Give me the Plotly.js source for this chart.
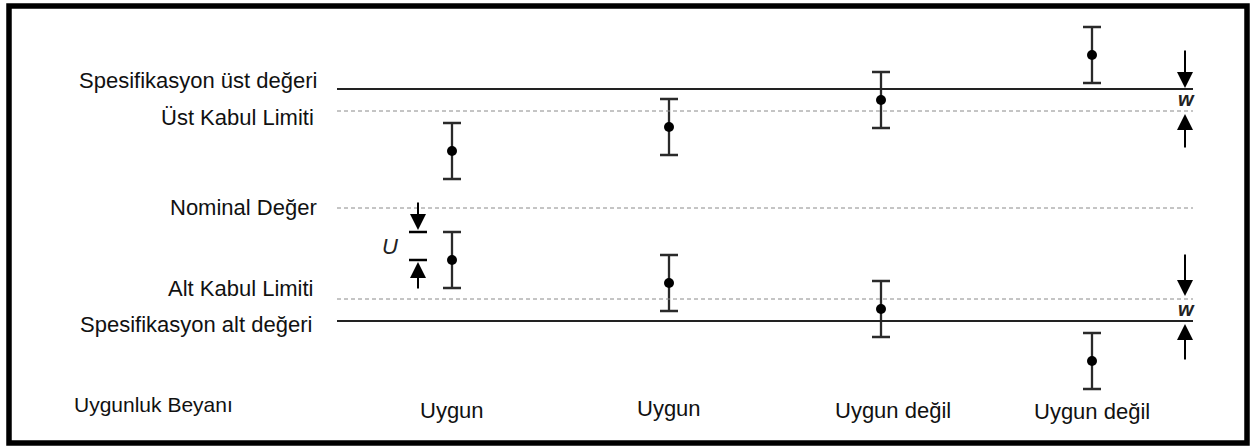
<!DOCTYPE html>
<html>
<head>
<meta charset="utf-8">
<script src="https://cdn.plot.ly/plotly-3.0.1.min.js"></script>
<style>html,body{margin:0;padding:0;background:#fff;}#chart{width:1257px;height:446px;}</style>
</head>
<body>
<div id="chart"></div>
<script>
// ---- data (measurement units, nominal = 0) ----
const positions = [452, 669, 881, 1092];
const verdicts = ["Uygun", "Uygun", "Uygun değil", "Uygun değil"];
const upperResults = [57, 81, 108, 153];
const lowerResults = [-52, -75, -101, -153];
const U = 28;
const limitNames = ["Spesifikasyon üst değeri", "Üst Kabul Limiti", "Nominal Değer", "Alt Kabul Limiti", "Spesifikasyon alt değeri"];
const limitValues = [119, 97, 0, -91, -113];
const limitSolid = [true, false, false, false, true];
const rowTitle = "Uygunluk Beyanı";

// ---- layout helpers ----
const FONT = "Liberation Sans, Arial, sans-serif";
const lineX0 = 337, lineX1 = 1193;
const labelRight = [319, 316, 319, 316, 314];
const labelOffset = [9, -6, 1, 11, -3]; // text centre relative to its line
const verdictY = -202;
const wArrowX = 1185, uArrowX = 418;

const errTrace = (ys) => ({
  type: "scatter", mode: "markers",
  x: positions, y: ys,
  marker: {color: "#000", size: 10},
  error_y: {type: "constant", value: U, color: "#2a2a2a", thickness: 2.3, width: 9},
  hoverinfo: "skip", showlegend: false
});

const shapes = [];
const annotations = [];

// frame
shapes.push({type: "rect", xref: "paper", yref: "paper",
  x0: 9/1257, x1: 1247/1257, y0: 1 - 443/446, y1: 1 - 6/446,
  line: {color: "#000", width: 5.5}, fillcolor: "rgba(0,0,0,0)"});

limitValues.forEach((v, i) => {
  shapes.push({type: "line", xref: "x", yref: "y", x0: lineX0, x1: lineX1, y0: v, y1: v,
    line: limitSolid[i] ? {color: "#222", width: 2} : {color: "#8a8a8a", width: 1, dash: "4px,3px"}});
  annotations.push({x: labelRight[i], y: v + labelOffset[i], xref: "x", yref: "y",
    xanchor: "right", yanchor: "middle", showarrow: false, text: limitNames[i],
    font: {family: FONT, size: 22, color: "#111"}});
});

annotations.push({x: 72, y: verdictY + 6, xref: "x", yref: "y", xanchor: "left", yanchor: "middle",
  showarrow: false, text: rowTitle, font: {family: FONT, size: 21, color: "#111"}});

const verdictShift = [0, 2, 0, -1];
positions.forEach((p, i) => {
  annotations.push({x: p + (i === 2 ? 12 : 0), y: verdictY + verdictShift[i], xref: "x", yref: "y",
    xanchor: "center", yanchor: "middle", showarrow: false, text: verdicts[i],
    font: {family: FONT, size: 22, color: "#111"}});
});

// arrow helper
const arrow = (x, tip, tail) => ({x: x, y: tip, ax: x, ay: tail, xref: "x", yref: "y",
  axref: "x", ayref: "y", text: "", showarrow: true, arrowhead: 2, arrowsize: 1.6,
  arrowwidth: 2, arrowcolor: "#000"});

// w arrows between specification and acceptance limits
annotations.push(arrow(wArrowX, limitValues[0] + 1, limitValues[0] + 40));
annotations.push(arrow(wArrowX, limitValues[1] - 3, limitValues[1] - 38));
annotations.push(arrow(wArrowX, limitValues[3] + 3, limitValues[3] + 46));
annotations.push(arrow(wArrowX, limitValues[4] - 3, limitValues[4] - 40));
annotations.push({x: wArrowX + 1, y: (limitValues[0] + limitValues[1]) / 2 + 1, xref: "x", yref: "y",
  showarrow: false, text: "<b><i>w</i></b>", font: {family: FONT, size: 20, color: "#222"}});
annotations.push({x: wArrowX + 1, y: (limitValues[3] + limitValues[4]) / 2 + 1, xref: "x", yref: "y",
  showarrow: false, text: "<b><i>w</i></b>", font: {family: FONT, size: 20, color: "#222"}});

// U indicator next to first lower result
const uTop = lowerResults[0] + U, uBot = lowerResults[0];
[uTop, uBot].forEach(v => shapes.push({type: "line", xref: "x", yref: "y",
  x0: uArrowX - 9, x1: uArrowX + 9, y0: v, y1: v, line: {color: "#000", width: 2.5}}));
annotations.push(arrow(uArrowX, uTop + 2, uTop + 31));
annotations.push(arrow(uArrowX, uBot - 2, uBot - 30));
annotations.push({x: 390, y: (uTop + uBot) / 2, xref: "x", yref: "y", showarrow: false,
  text: "<i>U</i>", font: {family: FONT, size: 22, color: "#222"}});

const layout = {
  width: 1257, height: 446,
  margin: {l: 0, r: 0, t: 0, b: 0},
  paper_bgcolor: "#fff", plot_bgcolor: "#fff",
  xaxis: {range: [0, 1257], visible: false, fixedrange: true},
  yaxis: {range: [-238, 208], visible: false, fixedrange: true},
  shapes: shapes, annotations: annotations, showlegend: false
};

Plotly.newPlot("chart", [errTrace(upperResults), errTrace(lowerResults)], layout,
  {displayModeBar: false, staticPlot: true});
</script>
</body>
</html>
